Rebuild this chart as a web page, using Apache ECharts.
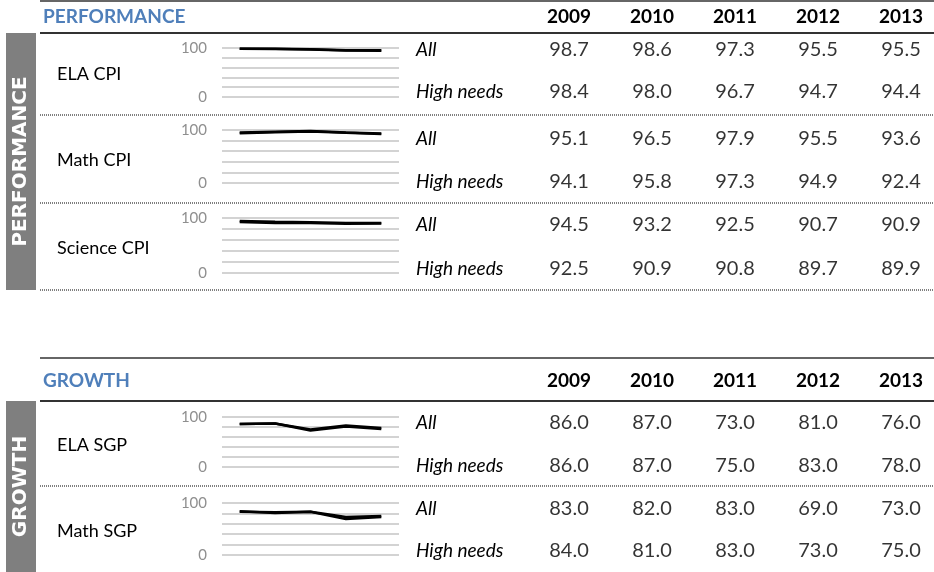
<!DOCTYPE html>
<html>
<head>
<meta charset="utf-8">
<script src="https://cdn.jsdelivr.net/npm/echarts@6/dist/echarts.min.js"></script>
<style>
  html, body { margin: 0; padding: 0; background: #fff; }
  #main { width: 934px; height: 572px; }
</style>
</head>
<body>
<div id="main"></div>
<script>
// data
const years = ['2009', '2010', '2011', '2012', '2013']
const groups = ['All', 'High needs']
const sections = ['PERFORMANCE', 'GROWTH']
const measures = ['ELA CPI', 'Math CPI', 'Science CPI', 'ELA SGP', 'Math SGP']
const sparkTicks = [0, 100]

const elaCpiAll = [98.7, 98.6, 97.3, 95.5, 95.5]
const elaCpiHigh = [98.4, 98.0, 96.7, 94.7, 94.4]
const mathCpiAll = [95.1, 96.5, 97.9, 95.5, 93.6]
const mathCpiHigh = [94.1, 95.8, 97.3, 94.9, 92.4]
const sciCpiAll = [94.5, 93.2, 92.5, 90.7, 90.9]
const sciCpiHigh = [92.5, 90.9, 90.8, 89.7, 89.9]
const elaSgpAll = [86.0, 87.0, 73.0, 81.0, 76.0]
const elaSgpHigh = [86.0, 87.0, 75.0, 83.0, 78.0]
const mathSgpAll = [83.0, 82.0, 83.0, 69.0, 73.0]
const mathSgpHigh = [84.0, 81.0, 83.0, 73.0, 75.0]

const measureValues = [
  [elaCpiAll, elaCpiHigh],
  [mathCpiAll, mathCpiHigh],
  [sciCpiAll, sciCpiHigh],
  [elaSgpAll, elaSgpHigh],
  [mathSgpAll, mathSgpHigh]
]

// layout (pixels)
const font = 'Lato, "Open Sans", sans-serif'
const sectionLayout = [
  { topLine: 1, headerY: 17, underline: 33, sideTop: 33, sideBottom: 290 },
  { topLine: 358, headerY: 381, underline: 401, sideTop: 401, sideBottom: 572 }
]
const blockLayout = [
  { section: 0, chartTop: 48, chartBottom: 97, rowTop: 50, rowBottom: 92, labelY: 74, sep: 115 },
  { section: 0, chartTop: 130, chartBottom: 183, rowTop: 139, rowBottom: 182, labelY: 160, sep: 203 },
  { section: 0, chartTop: 218, chartBottom: 273, rowTop: 225, rowBottom: 269, labelY: 248, sep: 290 },
  { section: 1, chartTop: 417, chartBottom: 467, rowTop: 423, rowBottom: 466, labelY: 445, sep: 486 },
  { section: 1, chartTop: 503, chartBottom: 555, rowTop: 509, rowBottom: 551, labelY: 531, sep: null }
]

const chart = echarts.init(document.getElementById('main'))

const grid = []
const xAxis = []
const yAxis = []
const series = []
const graphic = []

blockLayout.forEach((b, i) => {
  const first = i === 0 || blockLayout[i - 1].section !== b.section
  const head = sectionLayout[b.section]
  // sparkline grid
  grid.push({ left: 222, width: 177, top: b.chartTop, height: b.chartBottom - b.chartTop })
  xAxis.push({
    gridIndex: 2 * i, type: 'category', data: years, boundaryGap: true,
    axisLine: { show: false }, axisTick: { show: false }, axisLabel: { show: false }
  })
  yAxis.push({
    gridIndex: 2 * i, type: 'value', min: 0, max: 100, interval: 20,
    axisLine: { show: false }, axisTick: { show: false },
    splitLine: { lineStyle: { color: '#c4c4c4', width: 1.5 } },
    axisLabel: {
      margin: 15, color: '#8f8f8f', fontSize: 15, fontFamily: font,
      formatter: v => (sparkTicks.includes(v) ? String(v) : '')
    }
  })
  // table grid
  grid.push({ left: 569, width: 332, top: b.rowTop, height: b.rowBottom - b.rowTop })
  xAxis.push({
    gridIndex: 2 * i + 1, type: 'category', data: years, boundaryGap: false, position: 'top',
    axisLine: { show: false }, axisTick: { show: false },
    axisLabel: {
      show: first, interval: 0, margin: b.rowTop - head.headerY, verticalAlign: 'middle',
      color: '#000', fontWeight: 'bold', fontSize: 19, fontFamily: font
    }
  })
  yAxis.push({
    gridIndex: 2 * i + 1, type: 'category', data: groups, inverse: true, boundaryGap: false,
    axisLine: { show: false }, axisTick: { show: false }, splitLine: { show: false },
    axisLabel: {
      interval: 0, align: 'left', margin: 569 - 416, color: '#000',
      fontStyle: 'italic', fontSize: 19, fontFamily: font
    }
  })

  const vals = measureValues[i]
  vals.forEach((arr, g) => {
    series.push({
      type: 'line', name: measures[i] + ' ' + groups[g], xAxisIndex: 2 * i, yAxisIndex: 2 * i,
      data: arr, symbol: 'none', silent: true,
      lineStyle: { color: '#000', width: 2.5 }
    })
  })
  const cells = []
  vals.forEach((arr, g) => arr.forEach((v, j) => cells.push([j, g, v])))
  series.push({
    type: 'scatter', xAxisIndex: 2 * i + 1, yAxisIndex: 2 * i + 1,
    data: cells, symbolSize: 1, itemStyle: { color: 'rgba(0,0,0,0)' }, silent: true,
    label: {
      show: true, position: 'inside', color: '#000', fontSize: 20, fontFamily: font,
      formatter: p => p.value[2].toFixed(1)
    }
  })

  graphic.push({
    type: 'text', x: 57, y: b.labelY,
    style: { text: measures[i], fill: '#000', font: '18px ' + font, textVerticalAlign: 'middle', verticalAlign: 'middle' }
  })
  if (b.sep !== null) {
    graphic.push({
      type: 'line', shape: { x1: 40, y1: b.sep, x2: 934, y2: b.sep },
      style: { stroke: '#000', lineWidth: 1, lineDash: [1, 1] }
    })
  }
})

sectionLayout.forEach((s, k) => {
  graphic.push({
    type: 'line', shape: { x1: 40, y1: s.topLine, x2: 934, y2: s.topLine },
    style: { stroke: '#333', lineWidth: 1.5 }
  })
  graphic.push({
    type: 'line', shape: { x1: 40, y1: s.underline, x2: 934, y2: s.underline },
    style: { stroke: '#333', lineWidth: 2 }
  })
  graphic.push({
    type: 'text', x: 43, y: s.headerY,
    style: { text: sections[k], fill: '#4f7fba', font: 'bold 19px ' + font, textVerticalAlign: 'middle', verticalAlign: 'middle' }
  })
  graphic.push({
    type: 'rect', shape: { x: 6, y: s.sideTop, width: 30, height: s.sideBottom - s.sideTop },
    style: { fill: '#7f7f7f' }
  })
  graphic.push({
    type: 'text', x: 21, y: (s.sideTop + s.sideBottom) / 2, rotation: Math.PI / 2,
    style: {
      text: sections[k], fill: '#fff', font: 'bold 20px "DejaVu Sans", sans-serif',
      textAlign: 'center', align: 'center', textVerticalAlign: 'middle', verticalAlign: 'middle'
    }
  })
})

chart.setOption({
  animation: false,
  grid: grid,
  xAxis: xAxis,
  yAxis: yAxis,
  series: series,
  graphic: graphic
})
</script>
</body>
</html>
